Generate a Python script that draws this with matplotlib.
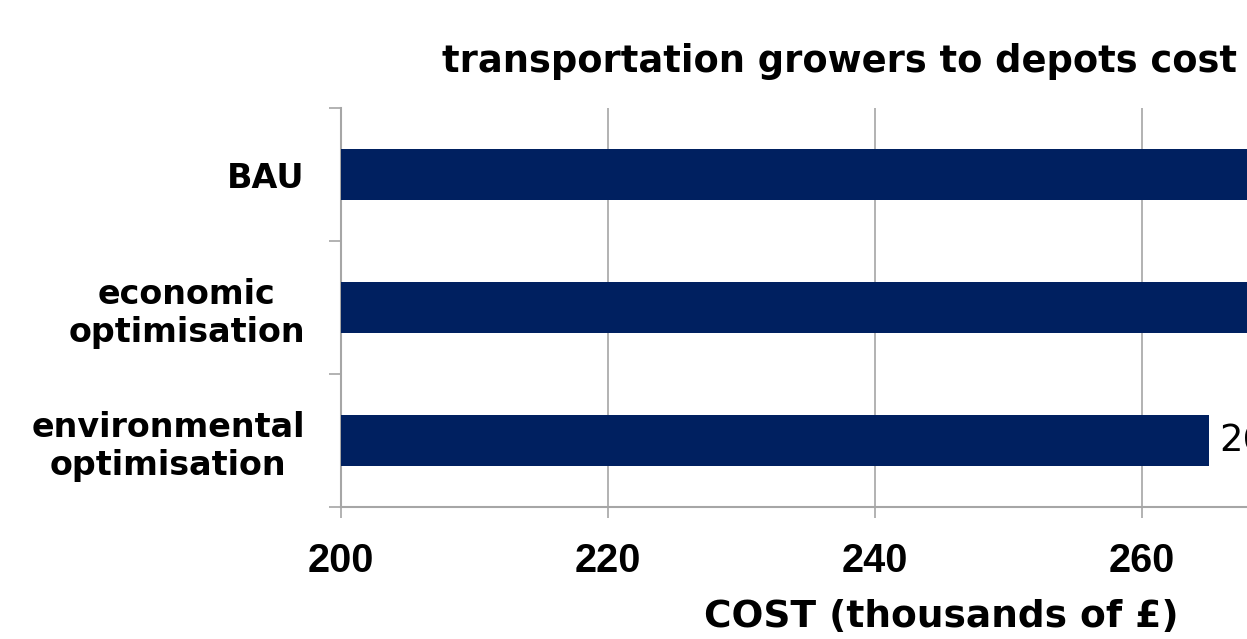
import matplotlib.pyplot as plt
from matplotlib.ticker import FixedLocator

# scenario costs, thousands of pounds
scenarios = ['BAU', 'economic\noptimisation', 'environmental\noptimisation']
costs = [283, 281, 265]
value_labels = ['283', '281', '265']

bar_color = '#002060'
grid_color = '#a6a6a6'

plt.rcParams['font.family'] = 'DejaVu Sans'

fig = plt.figure(figsize=(12.47, 6.39), dpi=100)
# plot area runs past the right edge of the figure
ax = fig.add_axes([341/1247, 132/639, 1335/1247, 399/639])

pos = list(range(len(scenarios)))
bars = ax.barh(pos, [c - 200 for c in costs], left=200, height=0.39,
               color=bar_color, edgecolor='none', zorder=3)

for b, lab in zip(bars, value_labels):
    ax.text(b.get_x() + b.get_width() + 0.75, b.get_y() + b.get_height()/2, lab,
            va='center', ha='left', fontsize=26.5, color='black', clip_on=False)

ax.set_xlim(200, 300)
ax.set_ylim(2.5, -0.5)
ax.set_xticks([200, 220, 240, 260, 280, 300])
ax.set_yticks(pos)
ax.set_yticklabels(scenarios, fontsize=24, fontweight='bold')
for t in ax.get_yticklabels():
    t.set_multialignment('center')
ax.yaxis.set_minor_locator(FixedLocator([-0.5, 0.5, 1.5, 2.5]))

ax.tick_params(axis='y', which='major', length=0, pad=26)
ax.tick_params(axis='y', which='minor', length=8.6, width=1.2, color=grid_color, direction='out')
ax.tick_params(axis='x', length=7.9, width=1.2, color=grid_color, direction='out', pad=17)
for t in ax.get_xticklabels():
    t.set_fontfamily('Liberation Sans')
    t.set_fontweight('bold')
    t.set_fontsize(28.5)

ax.grid(axis='x', color=grid_color, linewidth=1.2, zorder=0)
for s in ['top', 'right']:
    ax.spines[s].set_visible(False)
for s in ['left', 'bottom']:
    ax.spines[s].set_color(grid_color)
    ax.spines[s].set_linewidth(1.5)

fig.text(840/1247, 1 - 72/639, 'transportation growers to depots cost',
         ha='center', va='baseline', fontsize=26.5, fontweight='bold')
fig.text(941/1247, 1 - 627/639, 'COST (thousands of £)',
         ha='center', va='baseline', fontsize=27, fontweight='bold')

fig.savefig('out.png', dpi=100)
